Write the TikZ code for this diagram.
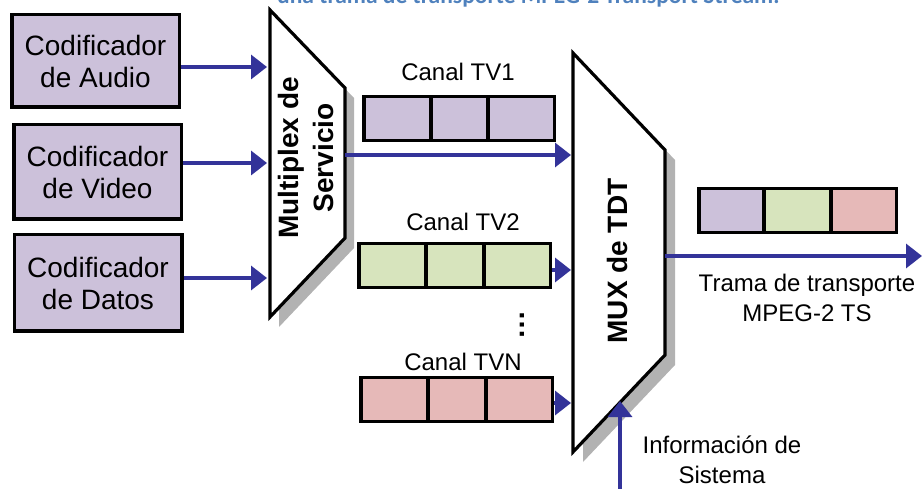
\documentclass[tikz,border=0pt]{standalone}
\usepackage{fontspec}
\setmainfont{Liberation Sans}
\newfontfamily\titlefont{Carlito}
\usetikzlibrary{arrows.meta}
\definecolor{lav}{HTML}{CCC1DA}
\definecolor{grn}{HTML}{D7E4BD}
\definecolor{pnk}{HTML}{E6B9B8}
\definecolor{arrowblue}{HTML}{333399}
\definecolor{shadowgray}{HTML}{B2B2B2}
\definecolor{titleblue}{HTML}{4F81BD}
\begin{document}
\begin{tikzpicture}[x=1pt,y=-1pt,
 codbox/.style={draw=black, line width=3.5pt, fill=lav, align=center, inner sep=0pt,
   minimum width=167.5pt, font=\fontsize{28}{32}\selectfont},
 cell/.style={draw=black, line width=3.5pt, inner sep=0pt, minimum height=44pt},
 arr/.style={draw=arrowblue, line width=3.4pt, -{Triangle[length=16pt,width=24pt]}},
 muxshape/.style={draw=black, line width=3.2pt, fill=white, line join=miter},
 shadowfill/.style={fill=shadowgray},
 lbl/.style={inner sep=0pt, align=center, font=\fontsize{24}{30}\selectfont},
 bigbold/.style={inner sep=0pt, align=center, rotate=90, font=\fontsize{28}{35}\selectfont\bfseries}]
\useasboundingbox (0,0) rectangle (922,489);
\begin{scope}
\clip (0,0) rectangle (922,489);
\node[anchor=base west, inner sep=0pt, text=titleblue,
  font=\fontsize{23.5}{28}\selectfont\titlefont\bfseries] (title) at (277,4)
  {una trama de transporte MPEG-2 Transport Stream.};
\end{scope}

% encoder boxes
\node[codbox, minimum height=92.5pt] (audio) at (95.5,61) {Codificador\\de Audio};
\node[codbox, minimum height=94.5pt] (video) at (97.5,172) {Codificador\\de Video};
\node[codbox, minimum height=96.5pt] (datos) at (98,283) {Codificador\\de Datos};

% service multiplexer
\coordinate (sA) at (270,10);
\coordinate (sB) at (345,88);
\coordinate (sC) at (345,238);
\coordinate (sD) at (270,317);
\fill[shadowfill] ([shift={(9,10)}]sA) -- ([shift={(9,10)}]sB) -- ([shift={(9,10)}]sC) -- ([shift={(9,10)}]sD) -- cycle;
\draw[muxshape] (sA) -- (sB) -- (sC) -- (sD) -- cycle;
\node[bigbold] (mplexlbl) at (306,158) {Multiplex de\\Servicio};

% TDT multiplexer
\coordinate (tA) at (573,53);
\coordinate (tB) at (665,150);
\coordinate (tC) at (665,355);
\coordinate (tD) at (573,452);
\fill[shadowfill] ([shift={(10,10)}]tA) -- ([shift={(10,10)}]tB) -- ([shift={(10,10)}]tC) -- ([shift={(10,10)}]tD) -- cycle;
\draw[muxshape] (tA) -- (tB) -- (tC) -- (tD) -- cycle;
\node[bigbold] (muxlbl) at (617,261) {MUX de TDT};

% arrows into service multiplexer
\coordinate (mIn1) at (267,67);
\coordinate (mIn2) at (267,163);
\coordinate (mIn3) at (267,278);
\draw[arr] (audio.east |- mIn1) -- (mIn1);
\draw[arr] (video.east |- mIn2) -- (mIn2);
\draw[arr] (datos.east |- mIn3) -- (mIn3);

% channel TV1
\node[lbl] (lbl1) at (458,72) {Canal TV1};
\node[cell, fill=lav, minimum width=67.5pt] (t1a) at (397.5,118.5) {};
\node[cell, fill=lav, minimum width=57pt] (t1b) at (459.5,118.5) {};
\node[cell, fill=lav, minimum width=66.5pt] (t1c) at (521,118.5) {};

% channel TV2
\node[lbl] (lbl2) at (463,222) {Canal TV2};
\node[cell, fill=grn, minimum width=67.5pt] (t2a) at (392.5,265.5) {};
\node[cell, fill=grn, minimum width=58pt] (t2b) at (455,265.5) {};
\node[cell, fill=grn, minimum width=66.5pt] (t2c) at (517,265.5) {};

% dots
\node[inner sep=0pt, rotate=90, font=\fontsize{29}{30}\selectfont\bfseries] (dots) at (522,325) {\char"2026};

% channel TVN
\node[lbl] (lbl3) at (463,362) {Canal TVN};
\node[cell, fill=pnk, minimum width=67.5pt] (t3a) at (394.5,399.5) {};
\node[cell, fill=pnk, minimum width=58pt] (t3b) at (457,399.5) {};
\node[cell, fill=pnk, minimum width=66.5pt] (t3c) at (519,399.5) {};

% arrows into TDT mux
\coordinate (xIn1) at (571,155);
\coordinate (xIn2) at (571,270);
\coordinate (xIn3) at (571,403);
\coordinate (mOut) at (345,155);
\draw[arr] (mOut) -- (xIn1);
\draw[arr] (t2c.east |- xIn2) -- (xIn2);
\draw[arr] (t3c.east |- xIn3) -- (xIn3);

% output stream
\node[cell, fill=lav, minimum width=65.5pt] (oa) at (731.5,210.5) {};
\node[cell, fill=grn, minimum width=67pt] (ob) at (797.5,210.5) {};
\node[cell, fill=pnk, minimum width=65.5pt] (oc) at (863.5,210.5) {};
\coordinate (xOut) at (665,256);
\coordinate (streamEnd) at (922,256);
\draw[arr] (xOut) -- (streamEnd);
\node[lbl] (tramalbl) at (807,298) {Trama de transporte\\MPEG-2 TS};

% system information
\coordinate (infoStart) at (620,489);
\coordinate (infoEnd) at (620,401);
\draw[arr] (infoStart) -- (infoEnd);
\node[lbl] (infolbl) at (722,460) {Información de\\Sistema};
\end{tikzpicture}
\end{document}
